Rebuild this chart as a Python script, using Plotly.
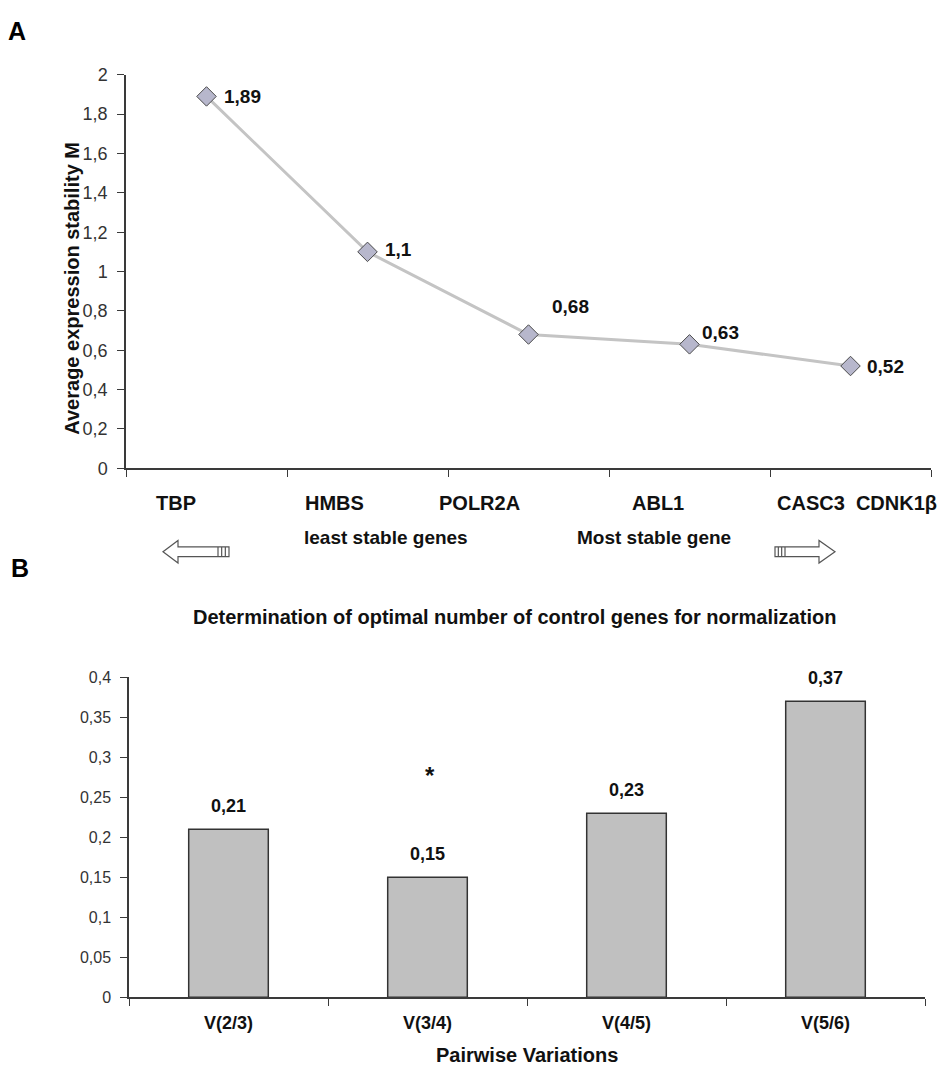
import plotly.graph_objects as go

W, H = 939, 1077

# ---------------- Data ----------------
# Panel A: geNorm average expression stability M
genes_a = ["TBP", "HMBS", "POLR2A", "ABL1", "CASC3 CDNK1β"]
stability_m = [1.89, 1.10, 0.68, 0.63, 0.52]
stability_labels = ["1,89", "1,1", "0,68", "0,63", "0,52"]
a_ytick_vals = [0, 0.2, 0.4, 0.6, 0.8, 1.0, 1.2, 1.4, 1.6, 1.8, 2.0]
a_ytick_text = ["0", "0,2", "0,4", "0,6", "0,8", "1", "1,2", "1,4", "1,6", "1,8", "2"]
gene_row_labels = ["TBP", "HMBS", "POLR2A", "ABL1", "CASC3  CDNK1β"]
stability_notes = ["least stable genes", "Most stable gene"]

# Panel B: pairwise variations
pairs_b = ["V(2/3)", "V(3/4)", "V(4/5)", "V(5/6)"]
pairwise_v = [0.21, 0.15, 0.23, 0.37]
pairwise_labels = ["0,21", "0,15", "0,23", "0,37"]
b_ytick_vals = [0, 0.05, 0.1, 0.15, 0.2, 0.25, 0.3, 0.35, 0.4]
b_ytick_text = ["0", "0,05", "0,1", "0,15", "0,2", "0,25", "0,3", "0,35", "0,4"]
optimal_pair = "V(3/4)"

# ---------------- Layout helpers (pixel -> paper) ----------------
def px(x):
    return x / W

def py(y):
    return 1 - y / H

FONT = "Arial, Liberation Sans, sans-serif"
AX = "#3a3a3a"

fig = go.Figure()

# Panel A line
fig.add_trace(go.Scatter(
    x=genes_a, y=stability_m, mode="lines+markers",
    line=dict(color="#c4c4c4", width=3),
    marker=dict(symbol="diamond", size=15, color="#b7b7cc",
                line=dict(color="#4a4a4a", width=1)),
    xaxis="x", yaxis="y", showlegend=False, hoverinfo="skip",
))

# Panel B bars
fig.add_trace(go.Bar(
    x=pairs_b, y=pairwise_v, width=0.4,
    marker=dict(color="#c0c0c0", line=dict(color="#333333", width=1.5)),
    xaxis="x2", yaxis="y2", showlegend=False, hoverinfo="skip",
))

annotations = []

# point labels panel A (offsets are style)
a_label_offsets = [(15, 0), (15, 2), (21, 28), (10, 12), (14, 0)]
for g, v, t, (dx, dy) in zip(genes_a, stability_m, stability_labels, a_label_offsets):
    annotations.append(dict(x=g, y=v, xref="x", yref="y", text=t, showarrow=False,
                            xanchor="left", yanchor="middle", xshift=dx, yshift=dy,
                            font=dict(family=FONT, size=19, color="#111111", weight="bold")))

# bar labels panel B
for c, v, t in zip(pairs_b, pairwise_v, pairwise_labels):
    annotations.append(dict(x=c, y=v, xref="x2", yref="y2", text=t, showarrow=False,
                            xanchor="center", yanchor="bottom", yshift=11,
                            font=dict(family=FONT, size=18, color="#111111", weight="bold")))

# asterisk marking optimal pair
annotations.append(dict(x=optimal_pair, y=pairwise_v[pairs_b.index(optimal_pair)],
                        xref="x2", yref="y2", text="*", showarrow=False,
                        xanchor="center", yanchor="middle", yshift=102, xshift=2,
                        font=dict(family=FONT, size=24, color="#111111", weight="bold")))

# gene row labels under panel A
gene_row_x = [176, 334, 479, 658, 857]
for t, x in zip(gene_row_labels, gene_row_x):
    annotations.append(dict(x=px(x), y=py(502), xref="paper", yref="paper", text=t,
                            showarrow=False, xanchor="center", yanchor="middle",
                            font=dict(family=FONT, size=20, color="#111111", weight="bold")))
for t, x in zip(stability_notes, [386, 654]):
    annotations.append(dict(x=px(x), y=py(537), xref="paper", yref="paper", text=t,
                            showarrow=False, xanchor="center", yanchor="middle",
                            font=dict(family=FONT, size=19, color="#111111", weight="bold")))

# y axis title panel A
annotations.append(dict(x=px(72), y=py(284), xref="paper", yref="paper",
                        text="Average expression stability M", textangle=-90,
                        showarrow=False, xanchor="center", yanchor="middle",
                        font=dict(family=FONT, size=20, color="#111111", weight="bold")))

# panel letters
annotations.append(dict(x=px(17), y=py(21), xref="paper", yref="paper", text="A",
                        showarrow=False, xanchor="center", yanchor="middle",
                        font=dict(family=FONT, size=25, color="#000000", weight="bold")))
annotations.append(dict(x=px(20), y=py(569), xref="paper", yref="paper", text="B",
                        showarrow=False, xanchor="center", yanchor="middle",
                        font=dict(family=FONT, size=25, color="#000000", weight="bold")))

# panel B title and x-axis title
annotations.append(dict(x=px(514), y=py(618), xref="paper", yref="paper",
                        text="Determination of optimal number of control genes for normalization",
                        showarrow=False, xanchor="center", yanchor="middle",
                        font=dict(family=FONT, size=20, color="#111111", weight="bold")))
annotations.append(dict(x=px(527), y=py(1065), xref="paper", yref="paper",
                        text="Pairwise Variations",
                        showarrow=False, xanchor="center", yanchor="middle",
                        font=dict(family=FONT, size=20, color="#111111", weight="bold")))

# block arrows (decorations)
def arrow_path(tip, head_back, shaft_end, stripe_end, yc):
    hh, sh = 11.5, 5
    pts = [(tip, yc), (head_back, yc - hh), (head_back, yc - sh), (shaft_end, yc - sh),
           (stripe_end, yc - sh), (stripe_end, yc + sh), (shaft_end, yc + sh),
           (head_back, yc + sh), (head_back, yc + hh)]
    d = "M " + " L ".join(f"{px(x)},{py(y)}" for x, y in pts) + " Z"
    step = (stripe_end - shaft_end) / 3.0
    for i in range(3):
        xx = shaft_end + step * i
        d += f" M {px(xx)},{py(yc - sh)} L {px(xx)},{py(yc + sh)}"
    return d

shapes = [
    dict(type="path", xref="paper", yref="paper",
         path=arrow_path(163, 178, 218, 229, 552),
         line=dict(color="#555555", width=1.2), fillcolor="white"),
    dict(type="path", xref="paper", yref="paper",
         path=arrow_path(835, 819, 785, 775, 552),
         line=dict(color="#555555", width=1.2), fillcolor="white"),
]

fig.update_layout(
    width=W, height=H, autosize=False,
    margin=dict(l=0, r=0, t=0, b=0),
    paper_bgcolor="white", plot_bgcolor="white",
    font=dict(family=FONT, color="#333333"),
    showlegend=False,
    annotations=annotations,
    shapes=shapes,
    xaxis=dict(domain=[px(126), px(931)], anchor="y", type="category",
               range=[-0.5, len(genes_a) - 0.5],
               showticklabels=False, ticks="outside", ticklen=7, tickcolor=AX,
               tickson="boundaries", showline=True, linecolor=AX, linewidth=1.5,
               showgrid=False, zeroline=False, fixedrange=True),
    yaxis=dict(domain=[py(467), py(66)], anchor="x", range=[0, 2],
               tickvals=a_ytick_vals, ticktext=a_ytick_text,
               tickfont=dict(family=FONT, size=18, color="#333333"),
               ticks="outside", ticklen=7, tickcolor=AX, ticklabelstandoff=6,
               showline=True, linecolor=AX, linewidth=1.5,
               showgrid=False, zeroline=False),
    xaxis2=dict(domain=[px(129), px(925)], anchor="y2", type="category",
                range=[-0.5, len(pairs_b) - 0.5],
                tickfont=dict(family=FONT, size=18, color="#111111", weight="bold"),
                ticks="outside", ticklen=7, tickcolor=AX, ticklabelstandoff=8,
                tickson="boundaries", showline=True, linecolor=AX, linewidth=1.5,
                showgrid=False, zeroline=False),
    yaxis2=dict(domain=[py(1006), py(680)], anchor="x2", range=[0, 0.4],
                tickvals=b_ytick_vals, ticktext=b_ytick_text,
                tickfont=dict(family=FONT, size=16, color="#333333"),
                ticks="outside", ticklen=7, tickcolor=AX, ticklabelstandoff=6,
                showline=True, linecolor=AX, linewidth=1.5,
                showgrid=False, zeroline=False),
)

fig.write_html("out.html")
